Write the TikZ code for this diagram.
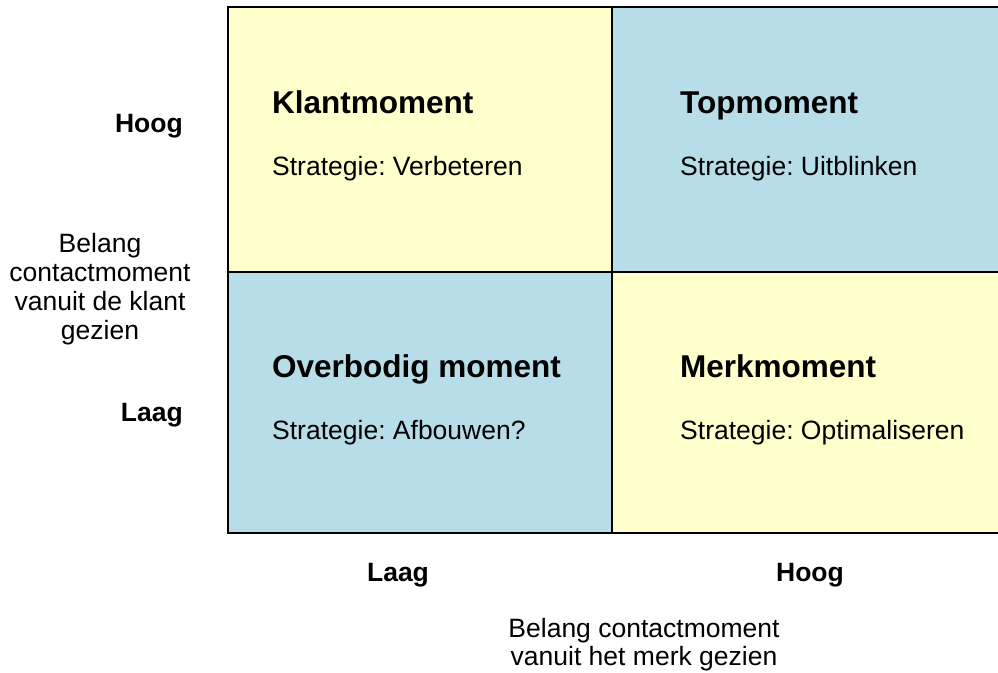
\documentclass[tikz,border=0pt]{standalone}
\usepackage{fontspec}
\setmainfont{Liberation Sans}
\frenchspacing
\definecolor{qyellow}{HTML}{FFFFCC}
\definecolor{qblue}{HTML}{B7DDE8}
\tikzset{
  quad/.style={draw=black, line width=2pt},
  head/.style={anchor=base west, inner sep=0pt, font=\fontsize{31.5}{36}\selectfont\bfseries},
  body/.style={anchor=base west, inner sep=0pt, font=\fontsize{26.5}{30}\selectfont},
  axisb/.style={inner sep=0pt, font=\fontsize{26.5}{30}\selectfont\bfseries},
  axist/.style={inner sep=0pt, align=center, font=\fontsize{26.5}{29}\selectfont},
  axisu/.style={inner sep=0pt, align=center, font=\fontsize{26.5}{28}\selectfont},
}
\begin{document}
\begin{tikzpicture}[x=1pt,y=-1pt]
\useasboundingbox (0,0) rectangle (998,672);
\clip (0,0) rectangle (998,672);
\fill[white] (0,0) rectangle (998,672);
% quadrants
\filldraw[quad, fill=qyellow] (227.5,6.5) rectangle (612,271.5);
\filldraw[quad, fill=qblue] (612,6.5) rectangle (1010,271.5);
\filldraw[quad, fill=qblue] (227.5,271.5) rectangle (612,532.5);
\filldraw[quad, fill=qyellow] (612,271.5) rectangle (1010,532.5);
% quadrant texts
\node[head] (k1) at (272,113) {Klantmoment};
\node[body] (k2) at (272,175) {Strategie: Verbeteren};
\node[head] (t1) at (680,113) {Topmoment};
\node[body] (t2) at (680,175) {Strategie: Uitblinken};
\node[head] (o1) at (272,377) {Overbodig moment};
\node[body] (o2) at (272,439) {Strategie: Afbouwen?};
\node[head] (m1) at (680,377) {Merkmoment};
\node[body] (m2) at (680,439) {Strategie: Optimaliseren};
% vertical axis labels
\node[axisb, anchor=base east] (yh) at (183,132) {Hoog};
\node[axisb, anchor=base east] (yl) at (183,421) {Laag};
\node[axist, anchor=base] (yt) at (100,339) {Belang\\contactmoment\\vanuit de klant\\gezien};
% horizontal axis labels
\node[axisb, anchor=base] (xl) at (398,581) {Laag};
\node[axisb, anchor=base] (xh) at (810,581) {Hoog};
\node[axisu, anchor=base] (xt) at (644,665) {Belang contactmoment\\vanuit het merk gezien};
\end{tikzpicture}
\end{document}
